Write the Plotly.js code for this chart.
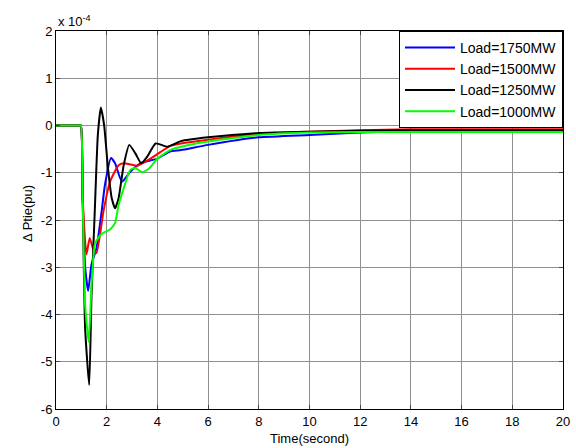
<!DOCTYPE html>
<html>
<head>
<meta charset="utf-8">
<script src="https://cdn.plot.ly/plotly-3.0.1.min.js"></script>
<style>html,body{margin:0;padding:0;background:#fff;}#chart{width:576px;height:448px;}</style>
</head>
<body>
<div id="chart"></div>
<script>
// Values in units of 1e-4 pu
const tBlue = [0,0.5,0.9,0.98,1.05,1.15,1.27,1.4,1.6,1.8,1.93,2.17,2.33,2.6,2.93,3.33,4.0,4.5,4.93,6,8,10,12,14,16,18,20];
const vBlue = [0,0,0,0,-1.5,-3.0,-3.5,-2.94,-2.59,-1.82,-1.26,-0.69,-0.8,-1.19,-0.98,-0.8,-0.7,-0.55,-0.52,-0.41,-0.25,-0.2,-0.15,-0.12,-0.11,-0.1,-0.1];

const tRed = [0,0.5,0.9,0.98,1.05,1.2,1.33,1.47,1.6,1.87,2.13,2.47,2.67,3.2,3.73,4.13,4.5,4.93,6,8,10,12,14,16,18,20];
const vRed = [0,0,0,0,-1.5,-2.73,-2.38,-2.62,-2.7,-1.82,-1.19,-0.84,-0.8,-0.85,-0.7,-0.56,-0.43,-0.38,-0.3,-0.18,-0.13,-0.1,-0.08,-0.08,-0.08,-0.08];

const tBlack = [0,0.5,0.9,0.98,1.05,1.15,1.31,1.4,1.53,1.65,1.77,1.9,2.05,2.2,2.33,2.47,2.67,2.89,3.13,3.36,3.6,3.93,4.4,4.93,6,8,10,12,14,16,18,20];
const vBlack = [0,0,0,0,-1.5,-4.3,-5.49,-3.6,-1.8,-0.2,0.38,0.0,-0.9,-1.54,-1.75,-1.54,-0.84,-0.41,-0.59,-0.8,-0.66,-0.38,-0.45,-0.33,-0.25,-0.16,-0.13,-0.11,-0.1,-0.1,-0.1,-0.1];

const tGreen = [0,0.5,0.9,0.98,1.05,1.15,1.29,1.4,1.53,1.7,1.87,2.13,2.33,2.47,2.67,2.93,3.13,3.4,3.67,4.0,4.5,4.93,6,8,10,12,14,16,18,20];
const vGreen = [0,0,0,0,-1.5,-3.8,-4.58,-3.4,-2.52,-2.35,-2.27,-2.2,-2.06,-1.68,-1.33,-0.94,-0.9,-0.99,-0.91,-0.7,-0.52,-0.45,-0.34,-0.2,-0.15,-0.14,-0.14,-0.14,-0.14,-0.14];

const names = ['Load=1750MW','Load=1500MW','Load=1250MW','Load=1000MW'];
const colors = ['#0000ff','#ff0000','#000000','#00ff00'];
const xs = [tBlue,tRed,tBlack,tGreen];
const ys = [vBlue,vRed,vBlack,vGreen];

const xTicks = [0,2,4,6,8,10,12,14,16,18,20];
const yTicks = [-6,-5,-4,-3,-2,-1,0,1,2];

const fam = 'Liberation Sans, Arial, sans-serif';
const font = {family:fam, size:13, color:'#000'};

const traces = names.map((n,i)=>({
  x: xs[i], y: ys[i], name: n, mode:'lines', type:'scatter',
  line:{color:colors[i], width:2, shape:'spline', smoothing:0.5}
}));

const layout = {
  width:576, height:448,
  margin:{l:56, r:13, t:31, b:39, pad:0},
  paper_bgcolor:'#fff', plot_bgcolor:'#fff',
  font: font,
  showlegend:true,
  legend:{x:1, xanchor:'right', y:1, yanchor:'top', bgcolor:'#fff', bordercolor:'#000', borderwidth:1,
          font:{family:fam, size:14, color:'#000'}, tracegroupgap:0, itemwidth:50},
  xaxis:{range:[0,20], tickvals:xTicks, ticktext:xTicks.map(String), ticks:'inside', ticklen:4,
         showline:true, linecolor:'#000', linewidth:1, mirror:'allticks', showgrid:true, gridcolor:'#909090', gridwidth:1,
         zeroline:false, tickfont:font},
  yaxis:{range:[-6,2], tickvals:yTicks, ticktext:yTicks.map(String), ticks:'inside', ticklen:4,
         showline:true, linecolor:'#000', linewidth:1, mirror:'allticks', showgrid:true, gridcolor:'#909090', gridwidth:1,
         zeroline:false, tickfont:font},
  annotations:[
    {text:'x 10<sup>-4</sup>', xref:'paper', yref:'paper', x:0, y:1, xanchor:'left', yanchor:'bottom', yshift:0, showarrow:false, font:font},
    {text:'Time(second)', xref:'paper', yref:'paper', x:0.5, y:0, xanchor:'center', yanchor:'top', yshift:-20, showarrow:false, font:{family:fam, size:13, color:'#000'}},
    {text:'Δ Ptie(pu)', xref:'paper', yref:'paper', x:0, y:0.516, xanchor:'center', yanchor:'middle', xshift:-28, textangle:-90, showarrow:false, font:{family:fam, size:13, color:'#000'}}
  ]
};

Plotly.newPlot('chart', traces, layout, {displayModeBar:false, staticPlot:true});
</script>
</body>
</html>
